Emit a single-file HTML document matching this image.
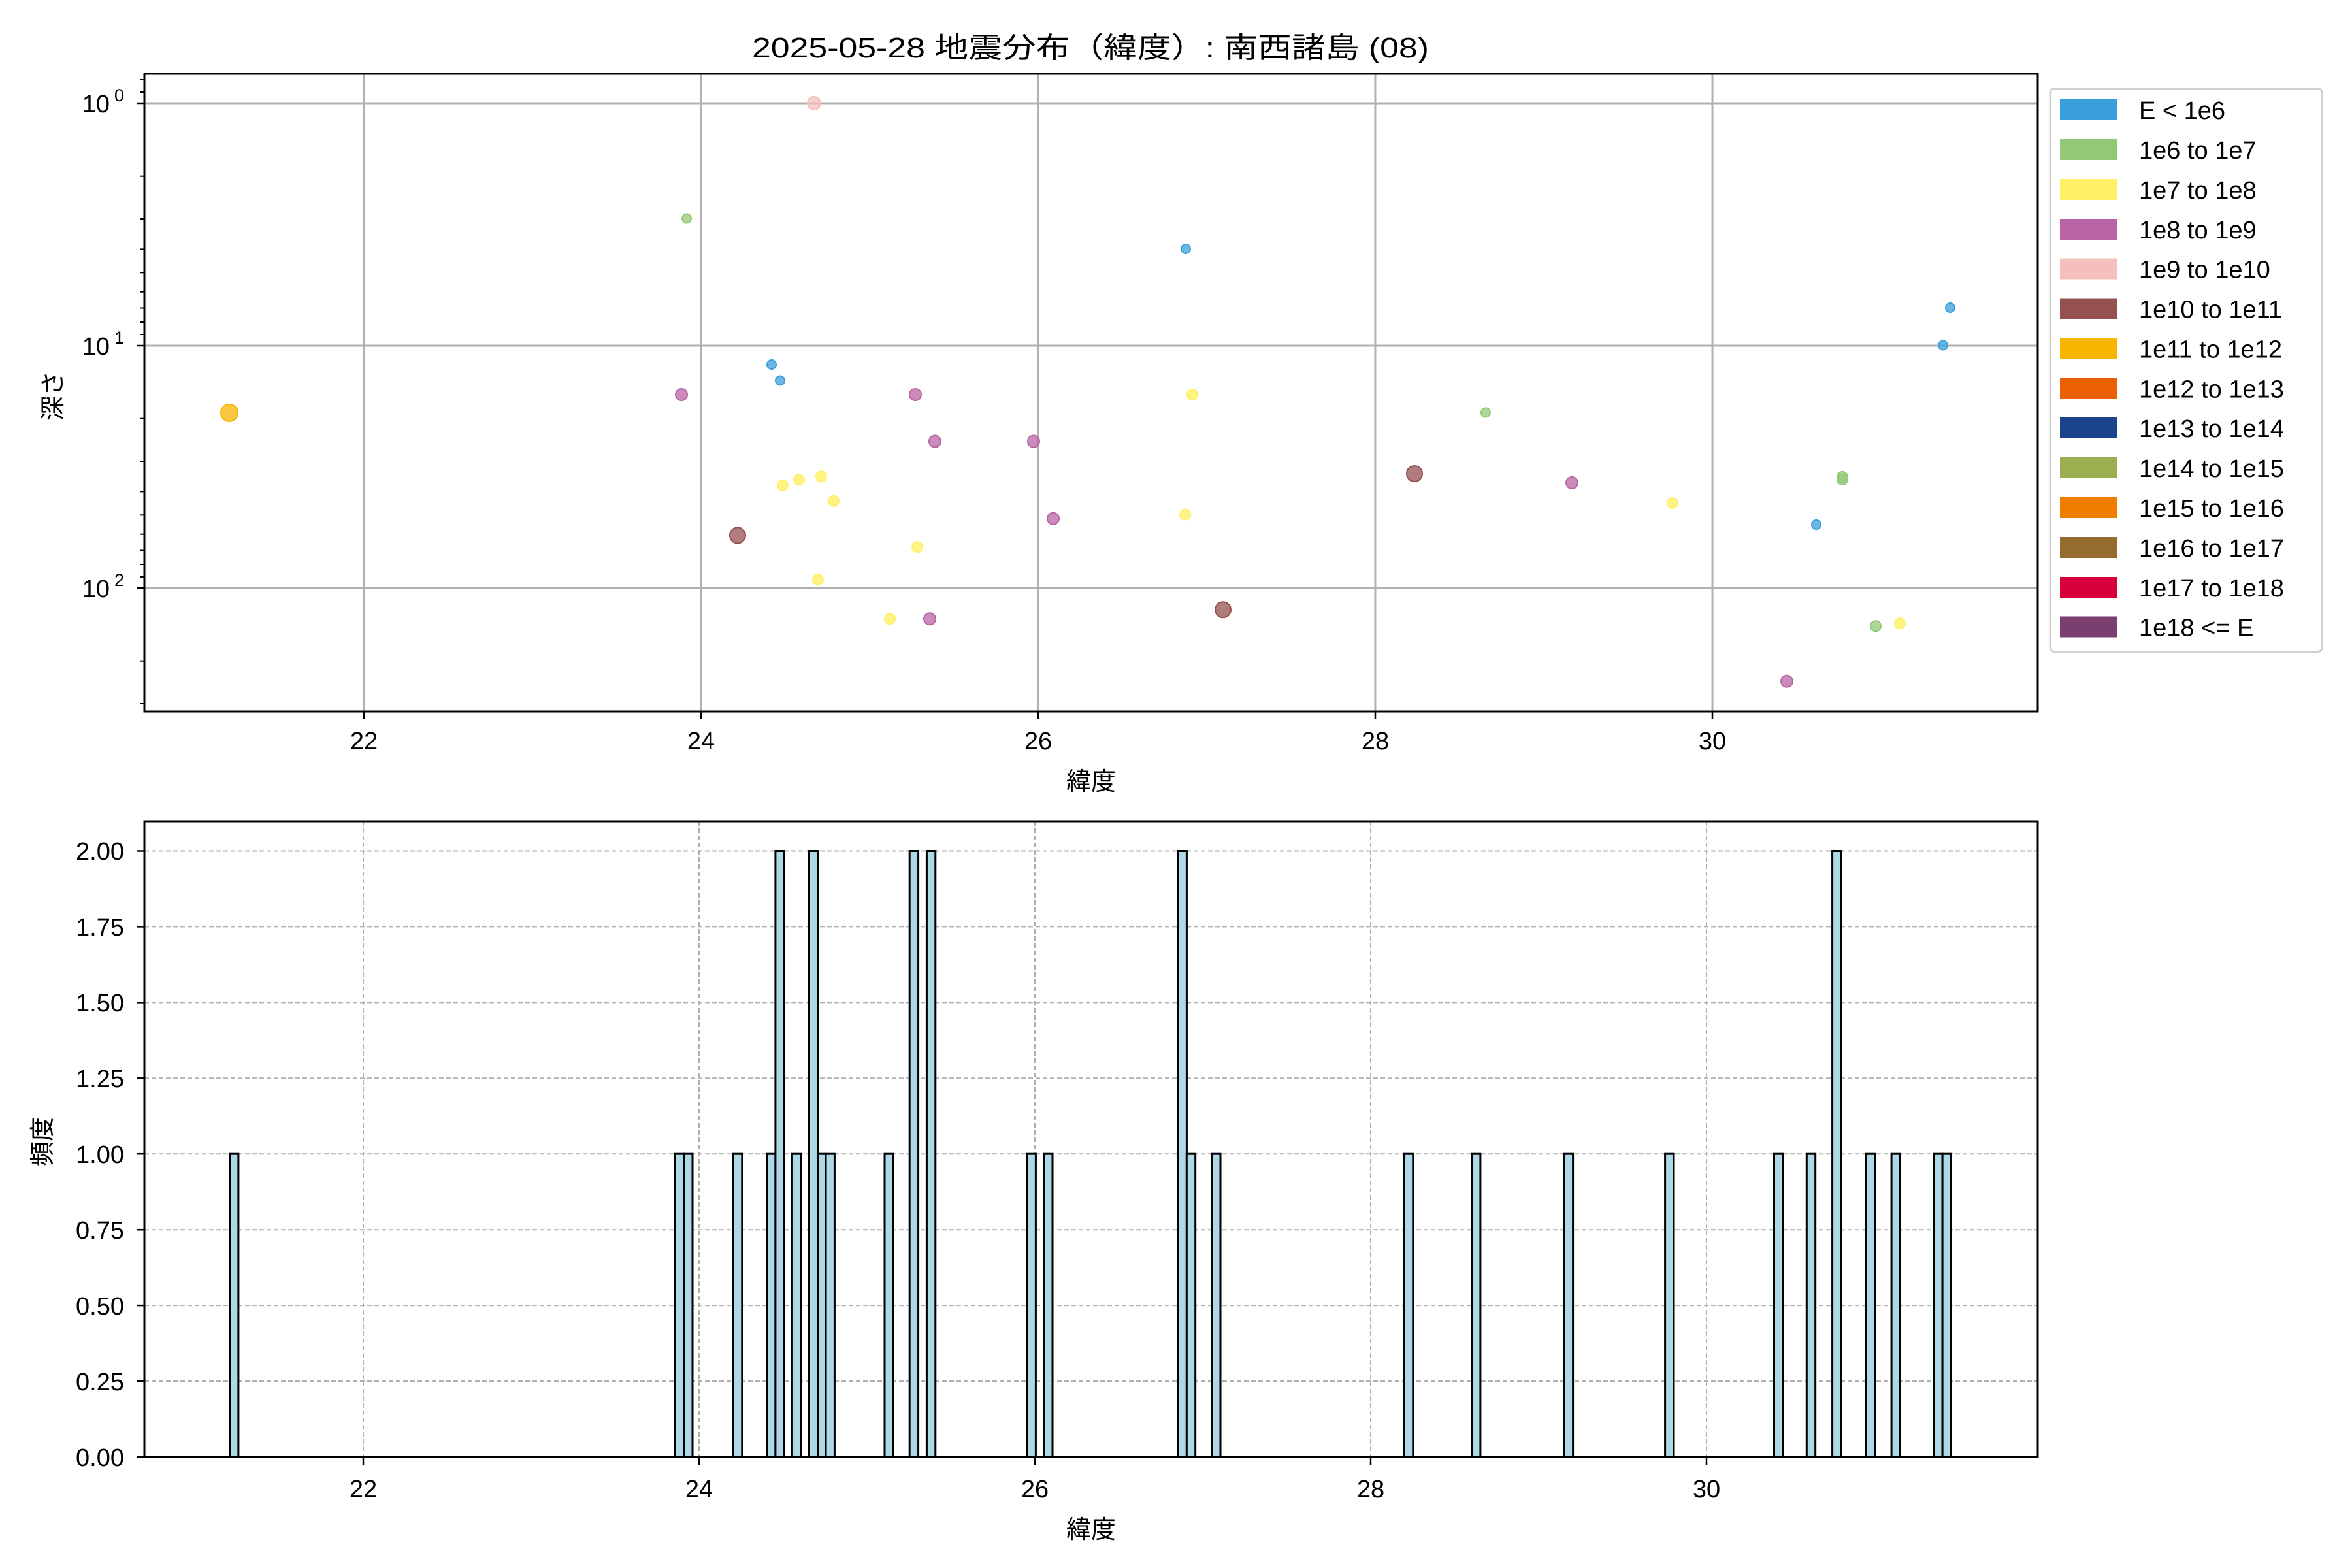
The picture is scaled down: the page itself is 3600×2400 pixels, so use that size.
<!DOCTYPE html>
<html><head><meta charset="utf-8"><style>html,body{margin:0;padding:0;background:#fff}svg{display:block}text{font-family:"Liberation Sans","Noto Sans CJK JP",sans-serif;fill:#000}</style></head><body>
<svg width="3600" height="2400" viewBox="0 0 3600 2400" xmlns="http://www.w3.org/2000/svg">
<rect width="3600" height="2400" fill="#fff"/>
<text x="1669" y="88" font-size="44" text-anchor="middle" textLength="1036" lengthAdjust="spacingAndGlyphs">2025-05-28 地震分布（緯度）: 南西諸島 (08)</text>
<g stroke="#b0b0b0" stroke-width="3">
<line x1="557" y1="113" x2="557" y2="1089"/><line x1="1073" y1="113" x2="1073" y2="1089"/><line x1="1589" y1="113" x2="1589" y2="1089"/><line x1="2105" y1="113" x2="2105" y2="1089"/><line x1="2621" y1="113" x2="2621" y2="1089"/>
<line x1="221" y1="158" x2="3119" y2="158"/><line x1="221" y1="529" x2="3119" y2="529"/><line x1="221" y1="900" x2="3119" y2="900"/>
</g>
<g stroke-width="2">
<circle cx="1246" cy="158" r="10" fill="#f4bfbc" fill-opacity="0.75" stroke="#f4bfbc"/>
<circle cx="1051" cy="334.5" r="7" fill="#93c976" fill-opacity="0.75" stroke="#93c976"/>
<circle cx="1815" cy="381" r="7" fill="#3aa0dc" fill-opacity="0.75" stroke="#3aa0dc"/>
<circle cx="1181" cy="558" r="7" fill="#3aa0dc" fill-opacity="0.75" stroke="#3aa0dc"/>
<circle cx="1194" cy="582.5" r="7" fill="#3aa0dc" fill-opacity="0.75" stroke="#3aa0dc"/>
<circle cx="2985" cy="471" r="7" fill="#3aa0dc" fill-opacity="0.75" stroke="#3aa0dc"/>
<circle cx="2974" cy="528.5" r="7" fill="#3aa0dc" fill-opacity="0.75" stroke="#3aa0dc"/>
<circle cx="2780" cy="803" r="7" fill="#3aa0dc" fill-opacity="0.75" stroke="#3aa0dc"/>
<circle cx="1043" cy="604" r="9" fill="#b964a4" fill-opacity="0.75" stroke="#b964a4"/>
<circle cx="1401" cy="604" r="9" fill="#b964a4" fill-opacity="0.75" stroke="#b964a4"/>
<circle cx="1431" cy="675.5" r="9" fill="#b964a4" fill-opacity="0.75" stroke="#b964a4"/>
<circle cx="1582" cy="675.5" r="9" fill="#b964a4" fill-opacity="0.75" stroke="#b964a4"/>
<circle cx="1612" cy="793.7" r="9" fill="#b964a4" fill-opacity="0.75" stroke="#b964a4"/>
<circle cx="1423" cy="947.3" r="9" fill="#b964a4" fill-opacity="0.75" stroke="#b964a4"/>
<circle cx="2406" cy="739" r="9" fill="#b964a4" fill-opacity="0.75" stroke="#b964a4"/>
<circle cx="2735" cy="1042.7" r="9" fill="#b964a4" fill-opacity="0.75" stroke="#b964a4"/>
<circle cx="1825" cy="604" r="8" fill="#fff066" fill-opacity="0.8" stroke="#fff066"/>
<circle cx="1198" cy="743" r="8" fill="#fff066" fill-opacity="0.8" stroke="#fff066"/>
<circle cx="1223" cy="734.3" r="8" fill="#fff066" fill-opacity="0.8" stroke="#fff066"/>
<circle cx="1257" cy="729.4" r="8" fill="#fff066" fill-opacity="0.8" stroke="#fff066"/>
<circle cx="1276" cy="766.7" r="8" fill="#fff066" fill-opacity="0.8" stroke="#fff066"/>
<circle cx="1814" cy="787.5" r="8" fill="#fff066" fill-opacity="0.8" stroke="#fff066"/>
<circle cx="1404" cy="837.2" r="8" fill="#fff066" fill-opacity="0.8" stroke="#fff066"/>
<circle cx="1252" cy="887.3" r="8" fill="#fff066" fill-opacity="0.8" stroke="#fff066"/>
<circle cx="1362" cy="947.3" r="8" fill="#fff066" fill-opacity="0.8" stroke="#fff066"/>
<circle cx="2560" cy="770" r="8" fill="#fff066" fill-opacity="0.8" stroke="#fff066"/>
<circle cx="2908" cy="954.2" r="8" fill="#fff066" fill-opacity="0.8" stroke="#fff066"/>
<circle cx="2274" cy="631.4" r="7" fill="#93c976" fill-opacity="0.75" stroke="#93c976"/>
<circle cx="2820" cy="730" r="8" fill="#93c976" fill-opacity="0.75" stroke="#93c976"/>
<circle cx="2820" cy="734" r="8" fill="#93c976" fill-opacity="0.75" stroke="#93c976"/>
<circle cx="2871" cy="958.2" r="8" fill="#93c976" fill-opacity="0.75" stroke="#93c976"/>
<circle cx="2165" cy="725" r="12" fill="#955050" fill-opacity="0.75" stroke="#955050"/>
<circle cx="1129" cy="819.4" r="12" fill="#955050" fill-opacity="0.75" stroke="#955050"/>
<circle cx="1872" cy="933.3" r="12" fill="#955050" fill-opacity="0.75" stroke="#955050"/>
<circle cx="351" cy="632" r="13" fill="#f7b500" fill-opacity="0.75" stroke="#f7b500"/>
</g>
<rect x="221" y="113" width="2898" height="976" fill="none" stroke="#000" stroke-width="3"/>
<g stroke="#000" stroke-width="2.5">
<line x1="557" y1="1089" x2="557" y2="1101"/><line x1="1073" y1="1089" x2="1073" y2="1101"/><line x1="1589" y1="1089" x2="1589" y2="1101"/><line x1="2105" y1="1089" x2="2105" y2="1101"/><line x1="2621" y1="1089" x2="2621" y2="1101"/>
<line x1="209" y1="158" x2="221" y2="158"/><line x1="209" y1="529" x2="221" y2="529"/><line x1="209" y1="900" x2="221" y2="900"/>
</g>
<g stroke="#000" stroke-width="2">
<line x1="214" y1="122" x2="221" y2="122"/><line x1="214" y1="141" x2="221" y2="141"/>
<line x1="214" y1="269.7" x2="221" y2="269.7"/><line x1="214" y1="335" x2="221" y2="335"/><line x1="214" y1="381.4" x2="221" y2="381.4"/><line x1="214" y1="417.3" x2="221" y2="417.3"/><line x1="214" y1="446.7" x2="221" y2="446.7"/><line x1="214" y1="471.5" x2="221" y2="471.5"/><line x1="214" y1="493" x2="221" y2="493"/><line x1="214" y1="512" x2="221" y2="512"/>
<line x1="214" y1="640.7" x2="221" y2="640.7"/><line x1="214" y1="706" x2="221" y2="706"/><line x1="214" y1="752.4" x2="221" y2="752.4"/><line x1="214" y1="788.3" x2="221" y2="788.3"/><line x1="214" y1="817.7" x2="221" y2="817.7"/><line x1="214" y1="842.5" x2="221" y2="842.5"/><line x1="214" y1="864" x2="221" y2="864"/><line x1="214" y1="883" x2="221" y2="883"/>
<line x1="214" y1="1011.7" x2="221" y2="1011.7"/><line x1="214" y1="1077" x2="221" y2="1077"/>
</g>
<g font-size="38" text-anchor="middle">
<text x="557" y="1147">22</text><text x="1073" y="1147">24</text><text x="1589" y="1147">26</text><text x="2105" y="1147">28</text><text x="2621" y="1147">30</text>
</g>
<g font-size="38" text-anchor="end">
<text x="168" y="172">10</text><text x="190" y="155" font-size="27">0</text>
<text x="168" y="543">10</text><text x="190" y="526" font-size="27">1</text>
<text x="168" y="914">10</text><text x="190" y="897" font-size="27">2</text>
</g>
<text x="1670" y="1209" font-size="38" text-anchor="middle">緯度</text>
<text transform="translate(94,606) rotate(-90)" font-size="38" text-anchor="middle">深さ</text>
<rect x="3138" y="135.5" width="416" height="862" rx="6" fill="#fff" stroke="#d0d0d0" stroke-width="3"/>
<g>
<rect x="3153" y="152" width="87" height="32" fill="#3aa0dc"/>
<rect x="3153" y="213" width="87" height="32" fill="#93c976"/>
<rect x="3153" y="274" width="87" height="32" fill="#fff066"/>
<rect x="3153" y="335" width="87" height="32" fill="#b964a4"/>
<rect x="3153" y="395.5" width="87" height="32" fill="#f4bfbc"/>
<rect x="3153" y="456.5" width="87" height="32" fill="#955050"/>
<rect x="3153" y="517.5" width="87" height="32" fill="#f7b500"/>
<rect x="3153" y="578.5" width="87" height="32" fill="#ec6004"/>
<rect x="3153" y="639" width="87" height="32" fill="#1a448c"/>
<rect x="3153" y="700" width="87" height="32" fill="#9caf50"/>
<rect x="3153" y="761" width="87" height="32" fill="#f07c00"/>
<rect x="3153" y="822" width="87" height="32" fill="#966b2e"/>
<rect x="3153" y="883" width="87" height="32" fill="#d7003a"/>
<rect x="3153" y="943.5" width="87" height="32" fill="#7a3f6e"/>
</g>
<g font-size="38">
<text x="3274" y="182">E &lt; 1e6</text>
<text x="3274" y="243">1e6 to 1e7</text>
<text x="3274" y="304">1e7 to 1e8</text>
<text x="3274" y="365">1e8 to 1e9</text>
<text x="3274" y="425.5">1e9 to 1e10</text>
<text x="3274" y="486.5">1e10 to 1e11</text>
<text x="3274" y="547.5">1e11 to 1e12</text>
<text x="3274" y="608.5">1e12 to 1e13</text>
<text x="3274" y="669">1e13 to 1e14</text>
<text x="3274" y="730">1e14 to 1e15</text>
<text x="3274" y="791">1e15 to 1e16</text>
<text x="3274" y="852">1e16 to 1e17</text>
<text x="3274" y="913">1e17 to 1e18</text>
<text x="3274" y="973.5">1e18 &lt;= E</text>
</g>
<g stroke="#b0b0b0" stroke-width="2" stroke-dasharray="7,4">
<line x1="556" y1="1257" x2="556" y2="2230"/><line x1="1070" y1="1257" x2="1070" y2="2230"/><line x1="1584" y1="1257" x2="1584" y2="2230"/><line x1="2098" y1="1257" x2="2098" y2="2230"/><line x1="2612" y1="1257" x2="2612" y2="2230"/>
<line x1="221" y1="1302.5" x2="3119" y2="1302.5"/><line x1="221" y1="1418.4" x2="3119" y2="1418.4"/><line x1="221" y1="1534.4" x2="3119" y2="1534.4"/><line x1="221" y1="1650.3" x2="3119" y2="1650.3"/><line x1="221" y1="1766.2" x2="3119" y2="1766.2"/><line x1="221" y1="1882.2" x2="3119" y2="1882.2"/><line x1="221" y1="1998.1" x2="3119" y2="1998.1"/><line x1="221" y1="2114" x2="3119" y2="2114"/>
</g>
<g fill="#add8e6" stroke="#000" stroke-width="3">
<rect x="351.5" y="1766.2" width="13.4" height="463.8"/>
<rect x="1033.2" y="1766.2" width="13.4" height="463.8"/>
<rect x="1046.6" y="1766.2" width="13.4" height="463.8"/>
<rect x="1122.4" y="1766.2" width="13.4" height="463.8"/>
<rect x="1173.5" y="1766.2" width="13.4" height="463.8"/>
<rect x="1186.9" y="1302.5" width="13.4" height="927.5"/>
<rect x="1212.4" y="1766.2" width="13.4" height="463.8"/>
<rect x="1238.5" y="1302.5" width="13.4" height="927.5"/>
<rect x="1251.9" y="1766.2" width="12.1" height="463.8"/>
<rect x="1264" y="1766.2" width="13.4" height="463.8"/>
<rect x="1354" y="1766.2" width="13.4" height="463.8"/>
<rect x="1392.2" y="1302.5" width="13.4" height="927.5"/>
<rect x="1418.4" y="1302.5" width="13.4" height="927.5"/>
<rect x="1572" y="1766.2" width="13.4" height="463.8"/>
<rect x="1597.6" y="1766.2" width="13.4" height="463.8"/>
<rect x="1803" y="1302.5" width="13.4" height="927.5"/>
<rect x="1816.3" y="1766.2" width="13.4" height="463.8"/>
<rect x="1854.6" y="1766.2" width="13.4" height="463.8"/>
<rect x="2149.4" y="1766.2" width="13.4" height="463.8"/>
<rect x="2252.5" y="1766.2" width="13.4" height="463.8"/>
<rect x="2394.2" y="1766.2" width="13.4" height="463.8"/>
<rect x="2548.6" y="1766.2" width="13.4" height="463.8"/>
<rect x="2715.5" y="1766.2" width="13.4" height="463.8"/>
<rect x="2765.3" y="1766.2" width="13.4" height="463.8"/>
<rect x="2804.6" y="1302.5" width="13.4" height="927.5"/>
<rect x="2856.5" y="1766.2" width="13.4" height="463.8"/>
<rect x="2895.1" y="1766.2" width="13.4" height="463.8"/>
<rect x="2959.7" y="1766.2" width="13.4" height="463.8"/>
<rect x="2973.1" y="1766.2" width="13.4" height="463.8"/>
</g>
<rect x="221" y="1257" width="2898" height="973" fill="none" stroke="#000" stroke-width="3"/>
<g stroke="#000" stroke-width="2.5">
<line x1="556" y1="2230" x2="556" y2="2242"/><line x1="1070" y1="2230" x2="1070" y2="2242"/><line x1="1584" y1="2230" x2="1584" y2="2242"/><line x1="2098" y1="2230" x2="2098" y2="2242"/><line x1="2612" y1="2230" x2="2612" y2="2242"/>
<line x1="209" y1="1302.5" x2="221" y2="1302.5"/><line x1="209" y1="1418.4" x2="221" y2="1418.4"/><line x1="209" y1="1534.4" x2="221" y2="1534.4"/><line x1="209" y1="1650.3" x2="221" y2="1650.3"/><line x1="209" y1="1766.2" x2="221" y2="1766.2"/><line x1="209" y1="1882.2" x2="221" y2="1882.2"/><line x1="209" y1="1998.1" x2="221" y2="1998.1"/><line x1="209" y1="2114" x2="221" y2="2114"/><line x1="209" y1="2230" x2="221" y2="2230"/>
</g>
<g font-size="38" text-anchor="middle">
<text x="556" y="2292">22</text><text x="1070" y="2292">24</text><text x="1584" y="2292">26</text><text x="2098" y="2292">28</text><text x="2612" y="2292">30</text>
</g>
<g font-size="38" text-anchor="end">
<text x="190" y="1316">2.00</text><text x="190" y="1432">1.75</text><text x="190" y="1548">1.50</text><text x="190" y="1664">1.25</text><text x="190" y="1780">1.00</text><text x="190" y="1896">0.75</text><text x="190" y="2012">0.50</text><text x="190" y="2128">0.25</text><text x="190" y="2244">0.00</text>
</g>
<text x="1670" y="2354" font-size="38" text-anchor="middle">緯度</text>
<text transform="translate(78,1747) rotate(-90)" font-size="38" text-anchor="middle">頻度</text>
</svg>
</body></html>
